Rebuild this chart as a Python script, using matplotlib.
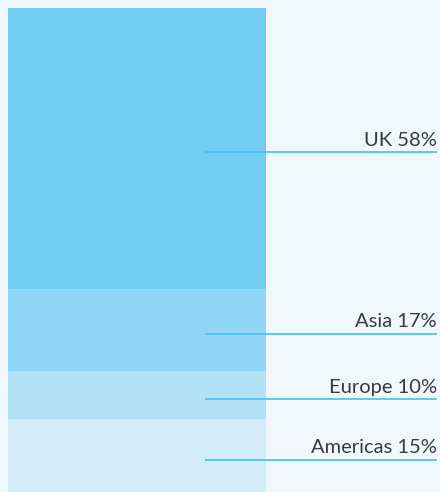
import matplotlib.pyplot as plt

regions = ["Americas", "Europe", "Asia", "UK"]
shares = [15, 10, 17, 58]
colors = ["#d3ecfa", "#b3e2f7", "#8fd5f5", "#73cdf3"]

BG = "#f0f8fd"
LINE_COLOR = "#3fc2ee"
TEXT_COLOR = "#3a3a3a"


def main():
    fig = plt.figure(figsize=(4.4, 4.92), dpi=100, facecolor=BG)
    ax = fig.add_axes([0, 0, 1, 1])
    ax.set_facecolor(BG)

    # x in pixels, y in percent (bar fills 484 of 492 px)
    ax.set_xlim(0, 440)
    ax.set_ylim(0, 100 * 492 / 484)

    bottom = 0
    for name, share, color in zip(regions, shares, colors):
        ax.bar(8, share, width=258, bottom=bottom, align="edge",
               color=color, linewidth=0)
        y = bottom + share / 2 - 0.8
        ax.plot([205, 437], [y, y], color=LINE_COLOR, linewidth=1.2,
                solid_capstyle="butt")
        ax.text(437, y + 0.7, f"{name} {share}%", ha="right", va="bottom",
                fontsize=14.5, color=TEXT_COLOR, family=["Lato", "DejaVu Sans"])
        bottom += share

    ax.axis("off")
    fig.savefig("out.png", dpi=100, facecolor=BG)
    plt.close(fig)


if __name__ == "__main__":
    main()
